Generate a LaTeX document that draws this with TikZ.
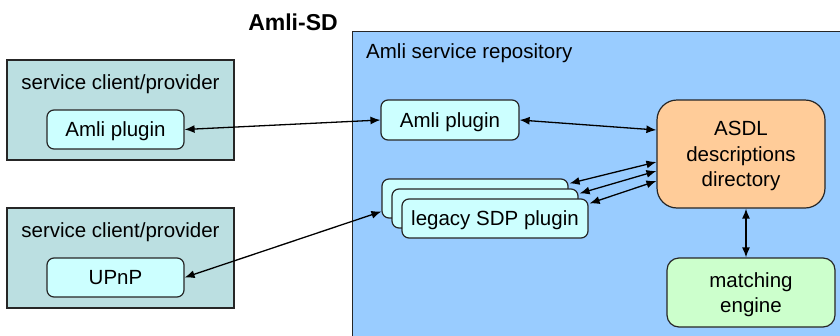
\documentclass[tikz,border=0pt]{standalone}
\usepackage{fontspec}
\setmainfont{Liberation Sans}
\usetikzlibrary{arrows.meta,calc}

\definecolor{hostfill}{HTML}{BBDFE1}
\definecolor{repofill}{HTML}{99CCFF}
\definecolor{plugfill}{HTML}{CCFFFF}
\definecolor{dirfill}{HTML}{FFCC99}
\definecolor{matchfill}{HTML}{CCFFCC}
\definecolor{edge}{HTML}{262626}

\tikzset{
  txt/.style={font=\fontsize{20.5}{25.5}\selectfont, text=black, inner sep=0pt, align=center, text depth=0pt},
  hostbox/.style={draw=edge, line width=1.4pt, fill=hostfill, minimum width=227pt, minimum height=100pt, inner sep=0pt},
  plugbox/.style={txt, draw=edge, line width=1.2pt, fill=plugfill, rounded corners=7pt, minimum height=39pt},
  bigbox/.style={txt, draw=edge, line width=1.2pt, rounded corners=#1, minimum width=168pt},
  link/.style={line width=1.3pt, {Latex[length=10pt,width=8pt]}-{Latex[length=10pt,width=8pt]}},
}

\begin{document}
\begin{tikzpicture}[x=1pt,y=-1pt]
  \useasboundingbox (0,0) rectangle (840,335);
  \clip (0,0) rectangle (840,335);

  % title
  \node[txt, font=\fontsize{23}{27}\selectfont\bfseries] (title) at (293,22) {Amli-SD};

  % repository area, running off the right and bottom edges
  \node[draw=edge, line width=1.4pt, fill=repofill, minimum width=500pt, minimum height=320pt, inner sep=0pt, anchor=north west] (repo) at (352,31) {};
  \node[txt, anchor=west] (repolabel) at (366,51) {Amli service repository};

  % service clients / providers
  \node[hostbox] (host1) at (120.5,110) {};
  \node[txt] (host1label) at (120.5,82) {service client/provider};
  \node[plugbox, minimum width=137pt] (plugL) at (115.5,129.5) {Amli plugin};

  \node[hostbox] (host2) at (120.5,258) {};
  \node[txt] (host2label) at (120.5,230) {service client/provider};
  \node[plugbox, minimum width=137pt] (upnp) at (115.5,277.5) {UPnP};

  % repository contents
  \node[plugbox, minimum width=138pt, minimum height=40pt] (plugR) at (450,120) {Amli plugin};

  \node[plugbox, minimum width=186pt] (lg1) at (475,198.5) {};
  \node[plugbox, minimum width=186pt] (lg2) at (485,208.5) {};
  \node[plugbox, minimum width=186pt] (lg3) at (495,218.5) {legacy SDP plugin};

  \node[bigbox=20pt, fill=dirfill, minimum height=108pt] (asdl) at (741,154) {ASDL\\descriptions\\directory};
  \node[bigbox=12pt, fill=matchfill, minimum height=69pt] (match) at (751,292.5) {matching\\engine};

  % connectors
  \draw[link] (plugL.east) -- (plugR.west);
  \draw[link] (upnp.east) -- ($(lg1.west)+(0,13)$);
  \draw[link] (plugR.east) -- ($(asdl.west)+(0,-24)$);
  \draw[link] ($(lg1.north east)+(1,5)$) -- ($(asdl.west)+(0,8)$);
  \draw[link] ($(lg2.north east)+(1,5)$) -- ($(asdl.west)+(0,17)$);
  \draw[link] ($(lg3.north east)+(1,5)$) -- ($(asdl.west)+(0,27)$);
  \draw[link] ($(asdl.south)+(5,0)$) -- ($(match.north)+(-5,0)$);
\end{tikzpicture}
\end{document}
